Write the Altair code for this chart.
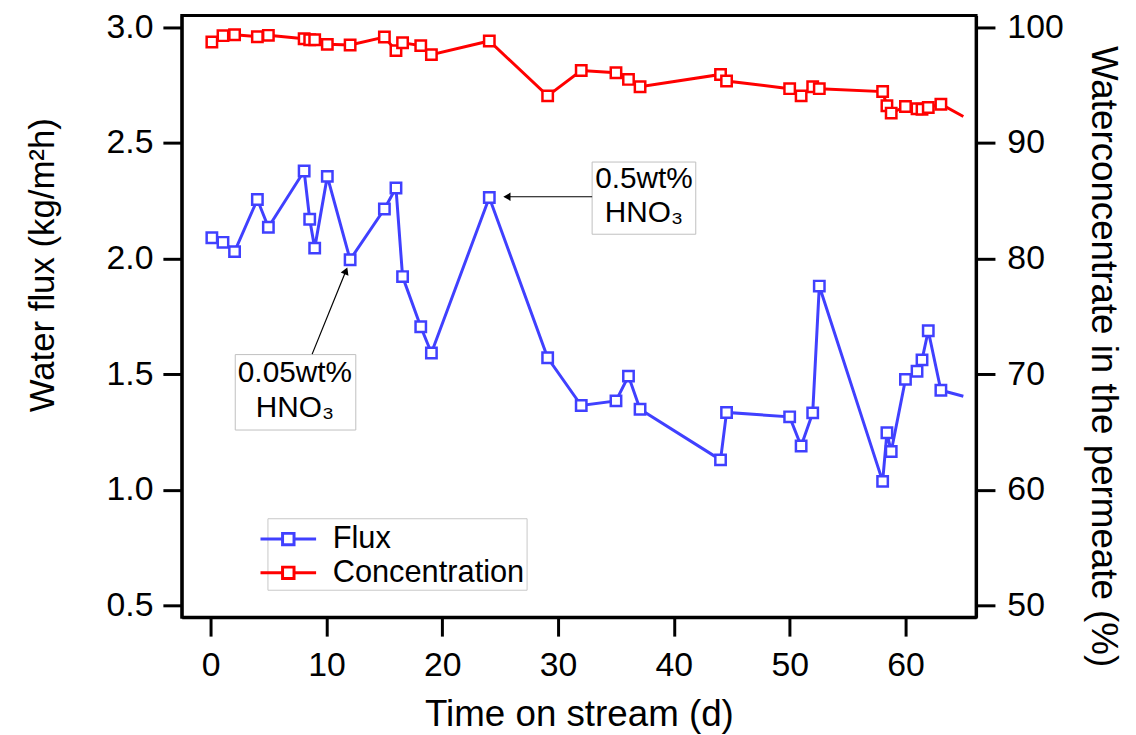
import altair as alt
import pandas as pd

# ---------------- data ----------------
days = [0.1, 1.06, 2.06, 4.03, 4.98, 8.07, 8.55, 8.98, 10.07, 12.04, 15.0, 16.0,
        16.57, 18.14, 19.06, 24.06, 29.1, 32.0, 35.0, 36.08, 37.08, 44.03, 44.55,
        50.0, 50.99, 51.99, 52.56, 58.03, 58.4, 58.77, 60.0, 61.0, 61.43, 61.97, 63.06]
flux = [2.09, 2.07, 2.03, 2.255, 2.135, 2.378, 2.17, 2.045, 2.355, 1.995, 2.214, 2.305,
        1.922, 1.705, 1.592, 2.264, 1.571, 1.365, 1.385, 1.492, 1.349, 1.13, 1.335,
        1.316, 1.19, 1.333, 1.881, 1.037, 1.247, 1.166, 1.478, 1.513, 1.562, 1.688, 1.431]
conc = [98.71, 99.26, 99.34, 99.17, 99.29, 99.0, 98.91, 98.91, 98.51, 98.46, 99.14, 97.97,
        98.65, 98.4, 97.62, 98.8, 94.06, 96.25, 96.05, 95.48, 94.85, 95.91, 95.34,
        94.68, 94.06, 94.85, 94.68, 94.43, 93.2, 92.57, 93.14, 92.95, 92.9, 93.05, 93.34]
# line continues to the edge without a marker
tail_day = [65.0]
tail_flux = [1.405]
tail_conc = [92.28]

series_names = ["Flux", "Concentration"]
series_colors = ["#4040ff", "#ff0000"]

x_ticks = [0, 10, 20, 30, 40, 50, 60]
flux_ticks = [0.5, 1.0, 1.5, 2.0, 2.5, 3.0]
conc_ticks = [50, 60, 70, 80, 90, 100]

# annotations (data coordinates of the left axis)
note_text = ["0.05wt%", "HNO\u2083", "0.5wt%", "HNO\u2083"]
note_x = [7.27, 7.27, 37.42, 37.42]
note_y = [1.506, 1.353, 2.344, 2.198]
box_x1 = [2.12, 32.94]
box_x2 = [12.53, 41.89]
box_y1 = [1.259, 2.105]
box_y2 = [1.585, 2.417]
arrow_x1 = [8.76, 32.94]
arrow_y1 = [1.587, 2.267]
arrow_x2 = [11.68, 25.58]
arrow_y2 = [1.947, 2.267]
head_angle = [22, 270]

FONT = "Liberation Sans"

n_f = len(days) + len(tail_day)
df_f = pd.DataFrame({"day": days + tail_day, "flux": flux + tail_flux,
                     "series": [series_names[0]] * n_f})
df_fp = pd.DataFrame({"day": days, "flux": flux})
df_c = pd.DataFrame({"day": days + tail_day, "conc": conc + tail_conc,
                     "series": [series_names[1]] * n_f})
df_cp = pd.DataFrame({"day": days, "conc": conc})
df_notes = pd.DataFrame({"t": note_text, "x": note_x, "y": note_y})
df_box = pd.DataFrame({"x1": box_x1, "x2": box_x2, "y1": box_y1, "y2": box_y2})
df_arrow = pd.DataFrame({"x1": arrow_x1, "y1": arrow_y1, "x2": arrow_x2,
                         "y2": arrow_y2, "a": head_angle})

x_scale = alt.Scale(domain=[-2.5, 66.1], nice=False, zero=False)
yl_scale = alt.Scale(domain=[0.45, 3.05], nice=False, zero=False)
yr_scale = alt.Scale(domain=[49, 101], nice=False, zero=False)

common_axis = dict(grid=False, domainColor="black", domainWidth=3, tickColor="black",
                   tickWidth=3, tickSize=19, labelFont=FONT, labelFontSize=34,
                   labelColor="black", titleFont=FONT,
                   titleFontWeight="normal", titleColor="black")

x_axis = alt.Axis(values=x_ticks, title="Time on stream (d)", labelPadding=13,
                  titlePadding=14, titleFontSize=37, **common_axis)
yl_axis = alt.Axis(values=flux_ticks, format=".1f", title="Water flux (kg/m\u00b2h)",
                   labelPadding=10, titlePadding=46, titleFontSize=35, titleY=251,
                   **common_axis)
yr_axis = alt.Axis(values=conc_ticks, orient="right", format="d",
                   title="Waterconcentrate in the permeate (%)", labelPadding=12,
                   titlePadding=21, titleFontSize=37, titleY=343, **common_axis)

X = alt.X("day:Q", scale=x_scale, axis=x_axis)

legend_path = ("M-1.84,0 M-1.6,0 L-0.33,0 M0.33,0 L1.6,0 "
               "M-0.33,-0.33 L0.33,-0.33 L0.33,0.33 L-0.33,0.33 Z")
color_scale = alt.Scale(domain=series_names, range=series_colors)
legend = alt.Legend(title=None, orient="none", legendX=86.3, legendY=506.3,
                    symbolType=legend_path, symbolSize=1225, symbolStrokeWidth=3,
                    symbolFillColor="white", labelFont=FONT, labelFontSize=31,
                    labelColor="black", labelOffset=25.7, labelLimit=600, padding=2,
                    rowPadding=0, strokeColor="#c8c8c8", fillColor="white")
C = alt.Color("series:N", scale=color_scale, legend=legend)

line_f = alt.Chart(df_f).mark_line(strokeWidth=3).encode(
    x=X, y=alt.Y("flux:Q", scale=yl_scale, axis=yl_axis), color=C)
pts_f = alt.Chart(df_fp).mark_point(shape="square", size=110, filled=True, fill="white",
                                    stroke=series_colors[0], strokeWidth=2.5, opacity=1).encode(
    x=X, y=alt.Y("flux:Q", scale=yl_scale, axis=yl_axis))

boxes = alt.Chart(df_box).mark_rect(fill="white", stroke="#c0c0c0", strokeWidth=1).encode(
    x=alt.X("x1:Q", scale=x_scale, axis=x_axis), x2="x2:Q",
    y=alt.Y("y1:Q", scale=yl_scale, axis=yl_axis), y2="y2:Q")
notes = alt.Chart(df_notes).mark_text(font=FONT, fontSize=30, color="black",
                                      align="center", baseline="middle").encode(
    x=alt.X("x:Q", scale=x_scale, axis=x_axis),
    y=alt.Y("y:Q", scale=yl_scale, axis=yl_axis), text="t:N")
arrows = alt.Chart(df_arrow).mark_rule(color="black", strokeWidth=1.2).encode(
    x=alt.X("x1:Q", scale=x_scale, axis=x_axis), x2="x2:Q",
    y=alt.Y("y1:Q", scale=yl_scale, axis=yl_axis), y2="y2:Q")
heads = alt.Chart(df_arrow).mark_point(shape="triangle-up", size=70, filled=True,
                                       color="black", opacity=1).encode(
    x=alt.X("x2:Q", scale=x_scale, axis=x_axis),
    y=alt.Y("y2:Q", scale=yl_scale, axis=yl_axis),
    angle=alt.Angle("a:Q", scale=None))

flux_layer = alt.layer(line_f, boxes, arrows, heads, notes, pts_f)

line_c = alt.Chart(df_c).mark_line(strokeWidth=3).encode(
    x=X, y=alt.Y("conc:Q", scale=yr_scale, axis=yr_axis), color=C)
pts_c = alt.Chart(df_cp).mark_point(shape="square", size=110, filled=True, fill="white",
                                    stroke=series_colors[1], strokeWidth=2.5, opacity=1).encode(
    x=X, y=alt.Y("conc:Q", scale=yr_scale, axis=yr_axis))
conc_layer = alt.layer(line_c, pts_c)

chart = alt.layer(flux_layer, conc_layer).resolve_scale(y="independent").properties(
    width=800, height=606,
    autosize=alt.AutoSizeParams(type="none"),
    padding={"left": 175, "top": 5, "right": 153, "bottom": 116},
    background="white",
).configure_view(stroke="black", strokeWidth=3)

chart.save("out.html", embed_options={"renderer": "svg", "actions": False})
